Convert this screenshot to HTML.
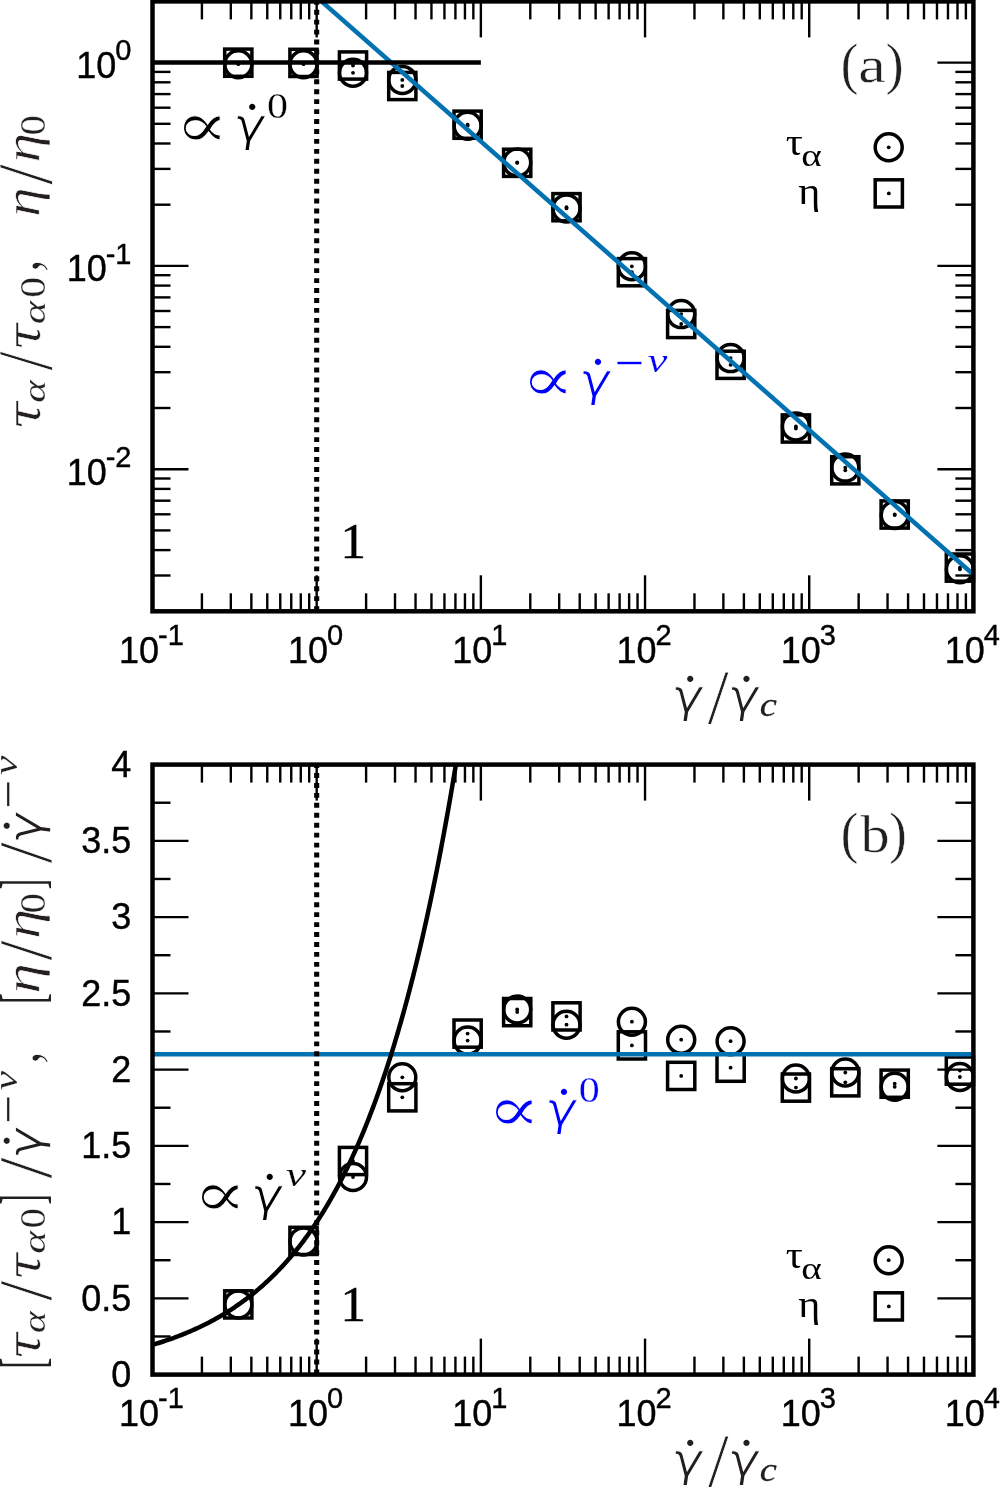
<!DOCTYPE html>
<html><head><meta charset="utf-8"><title>plot</title><style>html,body{margin:0;padding:0;background:#fff}svg{display:block}</style></head><body>
<svg width="1000" height="1487" viewBox="0 0 1000 1487">
<rect width="1000" height="1487" fill="#fff"/>
<defs><clipPath id="ca"><rect x="152.50" y="1.40" width="820.90" height="609.90"/></clipPath><clipPath id="cb"><rect x="152.50" y="764.60" width="820.90" height="610.00"/></clipPath></defs>
<g id="pa">
<line x1="201.92" y1="611.30" x2="201.92" y2="593.30" stroke="#000" stroke-width="2.4" />
<line x1="201.92" y1="1.40" x2="201.92" y2="19.40" stroke="#000" stroke-width="2.4" />
<line x1="230.83" y1="611.30" x2="230.83" y2="593.30" stroke="#000" stroke-width="2.4" />
<line x1="230.83" y1="1.40" x2="230.83" y2="19.40" stroke="#000" stroke-width="2.4" />
<line x1="251.35" y1="611.30" x2="251.35" y2="593.30" stroke="#000" stroke-width="2.4" />
<line x1="251.35" y1="1.40" x2="251.35" y2="19.40" stroke="#000" stroke-width="2.4" />
<line x1="267.26" y1="611.30" x2="267.26" y2="593.30" stroke="#000" stroke-width="2.4" />
<line x1="267.26" y1="1.40" x2="267.26" y2="19.40" stroke="#000" stroke-width="2.4" />
<line x1="280.26" y1="611.30" x2="280.26" y2="593.30" stroke="#000" stroke-width="2.4" />
<line x1="280.26" y1="1.40" x2="280.26" y2="19.40" stroke="#000" stroke-width="2.4" />
<line x1="291.25" y1="611.30" x2="291.25" y2="593.30" stroke="#000" stroke-width="2.4" />
<line x1="291.25" y1="1.40" x2="291.25" y2="19.40" stroke="#000" stroke-width="2.4" />
<line x1="300.77" y1="611.30" x2="300.77" y2="593.30" stroke="#000" stroke-width="2.4" />
<line x1="300.77" y1="1.40" x2="300.77" y2="19.40" stroke="#000" stroke-width="2.4" />
<line x1="309.17" y1="611.30" x2="309.17" y2="593.30" stroke="#000" stroke-width="2.4" />
<line x1="309.17" y1="1.40" x2="309.17" y2="19.40" stroke="#000" stroke-width="2.4" />
<line x1="316.68" y1="611.30" x2="316.68" y2="575.30" stroke="#000" stroke-width="2.4" />
<line x1="316.68" y1="1.40" x2="316.68" y2="37.40" stroke="#000" stroke-width="2.4" />
<line x1="366.10" y1="611.30" x2="366.10" y2="593.30" stroke="#000" stroke-width="2.4" />
<line x1="366.10" y1="1.40" x2="366.10" y2="19.40" stroke="#000" stroke-width="2.4" />
<line x1="395.01" y1="611.30" x2="395.01" y2="593.30" stroke="#000" stroke-width="2.4" />
<line x1="395.01" y1="1.40" x2="395.01" y2="19.40" stroke="#000" stroke-width="2.4" />
<line x1="415.53" y1="611.30" x2="415.53" y2="593.30" stroke="#000" stroke-width="2.4" />
<line x1="415.53" y1="1.40" x2="415.53" y2="19.40" stroke="#000" stroke-width="2.4" />
<line x1="431.44" y1="611.30" x2="431.44" y2="593.30" stroke="#000" stroke-width="2.4" />
<line x1="431.44" y1="1.40" x2="431.44" y2="19.40" stroke="#000" stroke-width="2.4" />
<line x1="444.44" y1="611.30" x2="444.44" y2="593.30" stroke="#000" stroke-width="2.4" />
<line x1="444.44" y1="1.40" x2="444.44" y2="19.40" stroke="#000" stroke-width="2.4" />
<line x1="455.43" y1="611.30" x2="455.43" y2="593.30" stroke="#000" stroke-width="2.4" />
<line x1="455.43" y1="1.40" x2="455.43" y2="19.40" stroke="#000" stroke-width="2.4" />
<line x1="464.95" y1="611.30" x2="464.95" y2="593.30" stroke="#000" stroke-width="2.4" />
<line x1="464.95" y1="1.40" x2="464.95" y2="19.40" stroke="#000" stroke-width="2.4" />
<line x1="473.35" y1="611.30" x2="473.35" y2="593.30" stroke="#000" stroke-width="2.4" />
<line x1="473.35" y1="1.40" x2="473.35" y2="19.40" stroke="#000" stroke-width="2.4" />
<line x1="480.86" y1="611.30" x2="480.86" y2="575.30" stroke="#000" stroke-width="2.4" />
<line x1="480.86" y1="1.40" x2="480.86" y2="37.40" stroke="#000" stroke-width="2.4" />
<line x1="530.28" y1="611.30" x2="530.28" y2="593.30" stroke="#000" stroke-width="2.4" />
<line x1="530.28" y1="1.40" x2="530.28" y2="19.40" stroke="#000" stroke-width="2.4" />
<line x1="559.19" y1="611.30" x2="559.19" y2="593.30" stroke="#000" stroke-width="2.4" />
<line x1="559.19" y1="1.40" x2="559.19" y2="19.40" stroke="#000" stroke-width="2.4" />
<line x1="579.71" y1="611.30" x2="579.71" y2="593.30" stroke="#000" stroke-width="2.4" />
<line x1="579.71" y1="1.40" x2="579.71" y2="19.40" stroke="#000" stroke-width="2.4" />
<line x1="595.62" y1="611.30" x2="595.62" y2="593.30" stroke="#000" stroke-width="2.4" />
<line x1="595.62" y1="1.40" x2="595.62" y2="19.40" stroke="#000" stroke-width="2.4" />
<line x1="608.62" y1="611.30" x2="608.62" y2="593.30" stroke="#000" stroke-width="2.4" />
<line x1="608.62" y1="1.40" x2="608.62" y2="19.40" stroke="#000" stroke-width="2.4" />
<line x1="619.61" y1="611.30" x2="619.61" y2="593.30" stroke="#000" stroke-width="2.4" />
<line x1="619.61" y1="1.40" x2="619.61" y2="19.40" stroke="#000" stroke-width="2.4" />
<line x1="629.13" y1="611.30" x2="629.13" y2="593.30" stroke="#000" stroke-width="2.4" />
<line x1="629.13" y1="1.40" x2="629.13" y2="19.40" stroke="#000" stroke-width="2.4" />
<line x1="637.53" y1="611.30" x2="637.53" y2="593.30" stroke="#000" stroke-width="2.4" />
<line x1="637.53" y1="1.40" x2="637.53" y2="19.40" stroke="#000" stroke-width="2.4" />
<line x1="645.04" y1="611.30" x2="645.04" y2="575.30" stroke="#000" stroke-width="2.4" />
<line x1="645.04" y1="1.40" x2="645.04" y2="37.40" stroke="#000" stroke-width="2.4" />
<line x1="694.46" y1="611.30" x2="694.46" y2="593.30" stroke="#000" stroke-width="2.4" />
<line x1="694.46" y1="1.40" x2="694.46" y2="19.40" stroke="#000" stroke-width="2.4" />
<line x1="723.37" y1="611.30" x2="723.37" y2="593.30" stroke="#000" stroke-width="2.4" />
<line x1="723.37" y1="1.40" x2="723.37" y2="19.40" stroke="#000" stroke-width="2.4" />
<line x1="743.89" y1="611.30" x2="743.89" y2="593.30" stroke="#000" stroke-width="2.4" />
<line x1="743.89" y1="1.40" x2="743.89" y2="19.40" stroke="#000" stroke-width="2.4" />
<line x1="759.80" y1="611.30" x2="759.80" y2="593.30" stroke="#000" stroke-width="2.4" />
<line x1="759.80" y1="1.40" x2="759.80" y2="19.40" stroke="#000" stroke-width="2.4" />
<line x1="772.80" y1="611.30" x2="772.80" y2="593.30" stroke="#000" stroke-width="2.4" />
<line x1="772.80" y1="1.40" x2="772.80" y2="19.40" stroke="#000" stroke-width="2.4" />
<line x1="783.79" y1="611.30" x2="783.79" y2="593.30" stroke="#000" stroke-width="2.4" />
<line x1="783.79" y1="1.40" x2="783.79" y2="19.40" stroke="#000" stroke-width="2.4" />
<line x1="793.31" y1="611.30" x2="793.31" y2="593.30" stroke="#000" stroke-width="2.4" />
<line x1="793.31" y1="1.40" x2="793.31" y2="19.40" stroke="#000" stroke-width="2.4" />
<line x1="801.71" y1="611.30" x2="801.71" y2="593.30" stroke="#000" stroke-width="2.4" />
<line x1="801.71" y1="1.40" x2="801.71" y2="19.40" stroke="#000" stroke-width="2.4" />
<line x1="809.22" y1="611.30" x2="809.22" y2="575.30" stroke="#000" stroke-width="2.4" />
<line x1="809.22" y1="1.40" x2="809.22" y2="37.40" stroke="#000" stroke-width="2.4" />
<line x1="858.64" y1="611.30" x2="858.64" y2="593.30" stroke="#000" stroke-width="2.4" />
<line x1="858.64" y1="1.40" x2="858.64" y2="19.40" stroke="#000" stroke-width="2.4" />
<line x1="887.55" y1="611.30" x2="887.55" y2="593.30" stroke="#000" stroke-width="2.4" />
<line x1="887.55" y1="1.40" x2="887.55" y2="19.40" stroke="#000" stroke-width="2.4" />
<line x1="908.07" y1="611.30" x2="908.07" y2="593.30" stroke="#000" stroke-width="2.4" />
<line x1="908.07" y1="1.40" x2="908.07" y2="19.40" stroke="#000" stroke-width="2.4" />
<line x1="923.98" y1="611.30" x2="923.98" y2="593.30" stroke="#000" stroke-width="2.4" />
<line x1="923.98" y1="1.40" x2="923.98" y2="19.40" stroke="#000" stroke-width="2.4" />
<line x1="936.98" y1="611.30" x2="936.98" y2="593.30" stroke="#000" stroke-width="2.4" />
<line x1="936.98" y1="1.40" x2="936.98" y2="19.40" stroke="#000" stroke-width="2.4" />
<line x1="947.97" y1="611.30" x2="947.97" y2="593.30" stroke="#000" stroke-width="2.4" />
<line x1="947.97" y1="1.40" x2="947.97" y2="19.40" stroke="#000" stroke-width="2.4" />
<line x1="957.49" y1="611.30" x2="957.49" y2="593.30" stroke="#000" stroke-width="2.4" />
<line x1="957.49" y1="1.40" x2="957.49" y2="19.40" stroke="#000" stroke-width="2.4" />
<line x1="965.89" y1="611.30" x2="965.89" y2="593.30" stroke="#000" stroke-width="2.4" />
<line x1="965.89" y1="1.40" x2="965.89" y2="19.40" stroke="#000" stroke-width="2.4" />
<line x1="152.50" y1="575.50" x2="170.50" y2="575.50" stroke="#000" stroke-width="2.4" />
<line x1="973.40" y1="575.50" x2="955.40" y2="575.50" stroke="#000" stroke-width="2.4" />
<line x1="152.50" y1="550.10" x2="170.50" y2="550.10" stroke="#000" stroke-width="2.4" />
<line x1="973.40" y1="550.10" x2="955.40" y2="550.10" stroke="#000" stroke-width="2.4" />
<line x1="152.50" y1="530.40" x2="170.50" y2="530.40" stroke="#000" stroke-width="2.4" />
<line x1="973.40" y1="530.40" x2="955.40" y2="530.40" stroke="#000" stroke-width="2.4" />
<line x1="152.50" y1="514.30" x2="170.50" y2="514.30" stroke="#000" stroke-width="2.4" />
<line x1="973.40" y1="514.30" x2="955.40" y2="514.30" stroke="#000" stroke-width="2.4" />
<line x1="152.50" y1="500.69" x2="170.50" y2="500.69" stroke="#000" stroke-width="2.4" />
<line x1="973.40" y1="500.69" x2="955.40" y2="500.69" stroke="#000" stroke-width="2.4" />
<line x1="152.50" y1="488.90" x2="170.50" y2="488.90" stroke="#000" stroke-width="2.4" />
<line x1="973.40" y1="488.90" x2="955.40" y2="488.90" stroke="#000" stroke-width="2.4" />
<line x1="152.50" y1="478.50" x2="170.50" y2="478.50" stroke="#000" stroke-width="2.4" />
<line x1="973.40" y1="478.50" x2="955.40" y2="478.50" stroke="#000" stroke-width="2.4" />
<line x1="152.50" y1="469.20" x2="188.50" y2="469.20" stroke="#000" stroke-width="2.4" />
<line x1="973.40" y1="469.20" x2="937.40" y2="469.20" stroke="#000" stroke-width="2.4" />
<line x1="152.50" y1="408.00" x2="170.50" y2="408.00" stroke="#000" stroke-width="2.4" />
<line x1="973.40" y1="408.00" x2="955.40" y2="408.00" stroke="#000" stroke-width="2.4" />
<line x1="152.50" y1="372.20" x2="170.50" y2="372.20" stroke="#000" stroke-width="2.4" />
<line x1="973.40" y1="372.20" x2="955.40" y2="372.20" stroke="#000" stroke-width="2.4" />
<line x1="152.50" y1="346.80" x2="170.50" y2="346.80" stroke="#000" stroke-width="2.4" />
<line x1="973.40" y1="346.80" x2="955.40" y2="346.80" stroke="#000" stroke-width="2.4" />
<line x1="152.50" y1="327.10" x2="170.50" y2="327.10" stroke="#000" stroke-width="2.4" />
<line x1="973.40" y1="327.10" x2="955.40" y2="327.10" stroke="#000" stroke-width="2.4" />
<line x1="152.50" y1="311.00" x2="170.50" y2="311.00" stroke="#000" stroke-width="2.4" />
<line x1="973.40" y1="311.00" x2="955.40" y2="311.00" stroke="#000" stroke-width="2.4" />
<line x1="152.50" y1="297.39" x2="170.50" y2="297.39" stroke="#000" stroke-width="2.4" />
<line x1="973.40" y1="297.39" x2="955.40" y2="297.39" stroke="#000" stroke-width="2.4" />
<line x1="152.50" y1="285.60" x2="170.50" y2="285.60" stroke="#000" stroke-width="2.4" />
<line x1="973.40" y1="285.60" x2="955.40" y2="285.60" stroke="#000" stroke-width="2.4" />
<line x1="152.50" y1="275.20" x2="170.50" y2="275.20" stroke="#000" stroke-width="2.4" />
<line x1="973.40" y1="275.20" x2="955.40" y2="275.20" stroke="#000" stroke-width="2.4" />
<line x1="152.50" y1="265.90" x2="188.50" y2="265.90" stroke="#000" stroke-width="2.4" />
<line x1="973.40" y1="265.90" x2="937.40" y2="265.90" stroke="#000" stroke-width="2.4" />
<line x1="152.50" y1="204.70" x2="170.50" y2="204.70" stroke="#000" stroke-width="2.4" />
<line x1="973.40" y1="204.70" x2="955.40" y2="204.70" stroke="#000" stroke-width="2.4" />
<line x1="152.50" y1="168.90" x2="170.50" y2="168.90" stroke="#000" stroke-width="2.4" />
<line x1="973.40" y1="168.90" x2="955.40" y2="168.90" stroke="#000" stroke-width="2.4" />
<line x1="152.50" y1="143.50" x2="170.50" y2="143.50" stroke="#000" stroke-width="2.4" />
<line x1="973.40" y1="143.50" x2="955.40" y2="143.50" stroke="#000" stroke-width="2.4" />
<line x1="152.50" y1="123.80" x2="170.50" y2="123.80" stroke="#000" stroke-width="2.4" />
<line x1="973.40" y1="123.80" x2="955.40" y2="123.80" stroke="#000" stroke-width="2.4" />
<line x1="152.50" y1="107.70" x2="170.50" y2="107.70" stroke="#000" stroke-width="2.4" />
<line x1="973.40" y1="107.70" x2="955.40" y2="107.70" stroke="#000" stroke-width="2.4" />
<line x1="152.50" y1="94.09" x2="170.50" y2="94.09" stroke="#000" stroke-width="2.4" />
<line x1="973.40" y1="94.09" x2="955.40" y2="94.09" stroke="#000" stroke-width="2.4" />
<line x1="152.50" y1="82.30" x2="170.50" y2="82.30" stroke="#000" stroke-width="2.4" />
<line x1="973.40" y1="82.30" x2="955.40" y2="82.30" stroke="#000" stroke-width="2.4" />
<line x1="152.50" y1="71.90" x2="170.50" y2="71.90" stroke="#000" stroke-width="2.4" />
<line x1="973.40" y1="71.90" x2="955.40" y2="71.90" stroke="#000" stroke-width="2.4" />
<line x1="152.50" y1="62.60" x2="188.50" y2="62.60" stroke="#000" stroke-width="2.4" />
<line x1="973.40" y1="62.60" x2="937.40" y2="62.60" stroke="#000" stroke-width="2.4" />
<circle cx="238.30" cy="64.20" r="13.5" fill="none" stroke="#000" stroke-width="3.5"/><circle cx="238.30" cy="64.20" r="1.9" fill="#000"/>
<rect x="224.70" y="49.10" width="27.2" height="27.2" fill="none" stroke="#000" stroke-width="3.5"/><circle cx="238.30" cy="62.70" r="1.9" fill="#000"/>
<circle cx="303.50" cy="64.20" r="13.5" fill="none" stroke="#000" stroke-width="3.5"/><circle cx="303.50" cy="64.20" r="1.9" fill="#000"/>
<rect x="289.90" y="49.30" width="27.2" height="27.2" fill="none" stroke="#000" stroke-width="3.5"/><circle cx="303.50" cy="62.90" r="1.9" fill="#000"/>
<circle cx="353.00" cy="72.80" r="13.5" fill="none" stroke="#000" stroke-width="3.5"/><circle cx="353.00" cy="72.80" r="1.9" fill="#000"/>
<rect x="339.40" y="51.90" width="27.2" height="27.2" fill="none" stroke="#000" stroke-width="3.5"/><circle cx="353.00" cy="65.50" r="1.9" fill="#000"/>
<circle cx="402.30" cy="79.90" r="13.5" fill="none" stroke="#000" stroke-width="3.5"/><circle cx="402.30" cy="79.90" r="1.9" fill="#000"/>
<rect x="388.70" y="72.40" width="27.2" height="27.2" fill="none" stroke="#000" stroke-width="3.5"/><circle cx="402.30" cy="86.00" r="1.9" fill="#000"/>
<circle cx="467.60" cy="125.70" r="13.5" fill="none" stroke="#000" stroke-width="3.5"/><circle cx="467.60" cy="125.70" r="1.9" fill="#000"/>
<rect x="454.00" y="111.10" width="27.2" height="27.2" fill="none" stroke="#000" stroke-width="3.5"/><circle cx="467.60" cy="124.70" r="1.9" fill="#000"/>
<circle cx="517.20" cy="162.50" r="13.5" fill="none" stroke="#000" stroke-width="3.5"/><circle cx="517.20" cy="162.50" r="1.9" fill="#000"/>
<rect x="503.60" y="149.20" width="27.2" height="27.2" fill="none" stroke="#000" stroke-width="3.5"/><circle cx="517.20" cy="162.80" r="1.9" fill="#000"/>
<circle cx="566.50" cy="208.40" r="13.5" fill="none" stroke="#000" stroke-width="3.5"/><circle cx="566.50" cy="208.40" r="1.9" fill="#000"/>
<rect x="552.90" y="193.60" width="27.2" height="27.2" fill="none" stroke="#000" stroke-width="3.5"/><circle cx="566.50" cy="207.20" r="1.9" fill="#000"/>
<circle cx="631.90" cy="266.30" r="13.5" fill="none" stroke="#000" stroke-width="3.5"/><circle cx="631.90" cy="266.30" r="1.9" fill="#000"/>
<rect x="618.30" y="258.60" width="27.2" height="27.2" fill="none" stroke="#000" stroke-width="3.5"/><circle cx="631.90" cy="272.20" r="1.9" fill="#000"/>
<circle cx="681.20" cy="314.10" r="13.5" fill="none" stroke="#000" stroke-width="3.5"/><circle cx="681.20" cy="314.10" r="1.9" fill="#000"/>
<rect x="667.60" y="310.40" width="27.2" height="27.2" fill="none" stroke="#000" stroke-width="3.5"/><circle cx="681.20" cy="324.00" r="1.9" fill="#000"/>
<circle cx="730.60" cy="358.10" r="13.5" fill="none" stroke="#000" stroke-width="3.5"/><circle cx="730.60" cy="358.10" r="1.9" fill="#000"/>
<rect x="717.00" y="351.20" width="27.2" height="27.2" fill="none" stroke="#000" stroke-width="3.5"/><circle cx="730.60" cy="364.80" r="1.9" fill="#000"/>
<circle cx="795.90" cy="426.40" r="13.5" fill="none" stroke="#000" stroke-width="3.5"/><circle cx="795.90" cy="426.40" r="1.9" fill="#000"/>
<rect x="782.30" y="414.90" width="27.2" height="27.2" fill="none" stroke="#000" stroke-width="3.5"/><circle cx="795.90" cy="428.50" r="1.9" fill="#000"/>
<circle cx="845.30" cy="467.60" r="13.5" fill="none" stroke="#000" stroke-width="3.5"/><circle cx="845.30" cy="467.60" r="1.9" fill="#000"/>
<rect x="831.70" y="456.70" width="27.2" height="27.2" fill="none" stroke="#000" stroke-width="3.5"/><circle cx="845.30" cy="470.30" r="1.9" fill="#000"/>
<circle cx="894.70" cy="515.00" r="13.5" fill="none" stroke="#000" stroke-width="3.5"/><circle cx="894.70" cy="515.00" r="1.9" fill="#000"/>
<rect x="881.10" y="500.90" width="27.2" height="27.2" fill="none" stroke="#000" stroke-width="3.5"/><circle cx="894.70" cy="514.50" r="1.9" fill="#000"/>
<circle cx="959.90" cy="569.30" r="13.5" fill="none" stroke="#000" stroke-width="3.5"/><circle cx="959.90" cy="569.30" r="1.9" fill="#000"/>
<rect x="946.30" y="554.00" width="27.2" height="27.2" fill="none" stroke="#000" stroke-width="3.5"/><circle cx="959.90" cy="567.60" r="1.9" fill="#000"/>
<g clip-path="url(#ca)">
<line x1="314.07" y1="-5.20" x2="973.40" y2="574.46" stroke="#0072b2" stroke-width="4.5" />
</g>
<line x1="152.50" y1="62.60" x2="480.86" y2="62.60" stroke="#000" stroke-width="4.5" />
<line x1="316.68" y1="611.05" x2="316.68" y2="1.40" stroke="#000" stroke-width="5.1" stroke-dasharray="4.9 5.04"/>
<rect x="152.50" y="1.40" width="820.90" height="609.90" fill="none" stroke="#000" stroke-width="4.5"/>
<circle cx="888.70" cy="147.30" r="13.5" fill="none" stroke="#000" stroke-width="3.5"/><circle cx="888.70" cy="147.30" r="1.9" fill="#000"/>
<rect x="875.20" y="179.80" width="27.2" height="27.2" fill="none" stroke="#000" stroke-width="3.5"/><circle cx="888.80" cy="193.40" r="1.9" fill="#000"/>
</g>
<g id="pb">
<line x1="201.92" y1="1374.60" x2="201.92" y2="1356.60" stroke="#000" stroke-width="2.4" />
<line x1="201.92" y1="764.60" x2="201.92" y2="782.60" stroke="#000" stroke-width="2.4" />
<line x1="230.83" y1="1374.60" x2="230.83" y2="1356.60" stroke="#000" stroke-width="2.4" />
<line x1="230.83" y1="764.60" x2="230.83" y2="782.60" stroke="#000" stroke-width="2.4" />
<line x1="251.35" y1="1374.60" x2="251.35" y2="1356.60" stroke="#000" stroke-width="2.4" />
<line x1="251.35" y1="764.60" x2="251.35" y2="782.60" stroke="#000" stroke-width="2.4" />
<line x1="267.26" y1="1374.60" x2="267.26" y2="1356.60" stroke="#000" stroke-width="2.4" />
<line x1="267.26" y1="764.60" x2="267.26" y2="782.60" stroke="#000" stroke-width="2.4" />
<line x1="280.26" y1="1374.60" x2="280.26" y2="1356.60" stroke="#000" stroke-width="2.4" />
<line x1="280.26" y1="764.60" x2="280.26" y2="782.60" stroke="#000" stroke-width="2.4" />
<line x1="291.25" y1="1374.60" x2="291.25" y2="1356.60" stroke="#000" stroke-width="2.4" />
<line x1="291.25" y1="764.60" x2="291.25" y2="782.60" stroke="#000" stroke-width="2.4" />
<line x1="300.77" y1="1374.60" x2="300.77" y2="1356.60" stroke="#000" stroke-width="2.4" />
<line x1="300.77" y1="764.60" x2="300.77" y2="782.60" stroke="#000" stroke-width="2.4" />
<line x1="309.17" y1="1374.60" x2="309.17" y2="1356.60" stroke="#000" stroke-width="2.4" />
<line x1="309.17" y1="764.60" x2="309.17" y2="782.60" stroke="#000" stroke-width="2.4" />
<line x1="316.68" y1="1374.60" x2="316.68" y2="1338.60" stroke="#000" stroke-width="2.4" />
<line x1="316.68" y1="764.60" x2="316.68" y2="800.60" stroke="#000" stroke-width="2.4" />
<line x1="366.10" y1="1374.60" x2="366.10" y2="1356.60" stroke="#000" stroke-width="2.4" />
<line x1="366.10" y1="764.60" x2="366.10" y2="782.60" stroke="#000" stroke-width="2.4" />
<line x1="395.01" y1="1374.60" x2="395.01" y2="1356.60" stroke="#000" stroke-width="2.4" />
<line x1="395.01" y1="764.60" x2="395.01" y2="782.60" stroke="#000" stroke-width="2.4" />
<line x1="415.53" y1="1374.60" x2="415.53" y2="1356.60" stroke="#000" stroke-width="2.4" />
<line x1="415.53" y1="764.60" x2="415.53" y2="782.60" stroke="#000" stroke-width="2.4" />
<line x1="431.44" y1="1374.60" x2="431.44" y2="1356.60" stroke="#000" stroke-width="2.4" />
<line x1="431.44" y1="764.60" x2="431.44" y2="782.60" stroke="#000" stroke-width="2.4" />
<line x1="444.44" y1="1374.60" x2="444.44" y2="1356.60" stroke="#000" stroke-width="2.4" />
<line x1="444.44" y1="764.60" x2="444.44" y2="782.60" stroke="#000" stroke-width="2.4" />
<line x1="455.43" y1="1374.60" x2="455.43" y2="1356.60" stroke="#000" stroke-width="2.4" />
<line x1="455.43" y1="764.60" x2="455.43" y2="782.60" stroke="#000" stroke-width="2.4" />
<line x1="464.95" y1="1374.60" x2="464.95" y2="1356.60" stroke="#000" stroke-width="2.4" />
<line x1="464.95" y1="764.60" x2="464.95" y2="782.60" stroke="#000" stroke-width="2.4" />
<line x1="473.35" y1="1374.60" x2="473.35" y2="1356.60" stroke="#000" stroke-width="2.4" />
<line x1="473.35" y1="764.60" x2="473.35" y2="782.60" stroke="#000" stroke-width="2.4" />
<line x1="480.86" y1="1374.60" x2="480.86" y2="1338.60" stroke="#000" stroke-width="2.4" />
<line x1="480.86" y1="764.60" x2="480.86" y2="800.60" stroke="#000" stroke-width="2.4" />
<line x1="530.28" y1="1374.60" x2="530.28" y2="1356.60" stroke="#000" stroke-width="2.4" />
<line x1="530.28" y1="764.60" x2="530.28" y2="782.60" stroke="#000" stroke-width="2.4" />
<line x1="559.19" y1="1374.60" x2="559.19" y2="1356.60" stroke="#000" stroke-width="2.4" />
<line x1="559.19" y1="764.60" x2="559.19" y2="782.60" stroke="#000" stroke-width="2.4" />
<line x1="579.71" y1="1374.60" x2="579.71" y2="1356.60" stroke="#000" stroke-width="2.4" />
<line x1="579.71" y1="764.60" x2="579.71" y2="782.60" stroke="#000" stroke-width="2.4" />
<line x1="595.62" y1="1374.60" x2="595.62" y2="1356.60" stroke="#000" stroke-width="2.4" />
<line x1="595.62" y1="764.60" x2="595.62" y2="782.60" stroke="#000" stroke-width="2.4" />
<line x1="608.62" y1="1374.60" x2="608.62" y2="1356.60" stroke="#000" stroke-width="2.4" />
<line x1="608.62" y1="764.60" x2="608.62" y2="782.60" stroke="#000" stroke-width="2.4" />
<line x1="619.61" y1="1374.60" x2="619.61" y2="1356.60" stroke="#000" stroke-width="2.4" />
<line x1="619.61" y1="764.60" x2="619.61" y2="782.60" stroke="#000" stroke-width="2.4" />
<line x1="629.13" y1="1374.60" x2="629.13" y2="1356.60" stroke="#000" stroke-width="2.4" />
<line x1="629.13" y1="764.60" x2="629.13" y2="782.60" stroke="#000" stroke-width="2.4" />
<line x1="637.53" y1="1374.60" x2="637.53" y2="1356.60" stroke="#000" stroke-width="2.4" />
<line x1="637.53" y1="764.60" x2="637.53" y2="782.60" stroke="#000" stroke-width="2.4" />
<line x1="645.04" y1="1374.60" x2="645.04" y2="1338.60" stroke="#000" stroke-width="2.4" />
<line x1="645.04" y1="764.60" x2="645.04" y2="800.60" stroke="#000" stroke-width="2.4" />
<line x1="694.46" y1="1374.60" x2="694.46" y2="1356.60" stroke="#000" stroke-width="2.4" />
<line x1="694.46" y1="764.60" x2="694.46" y2="782.60" stroke="#000" stroke-width="2.4" />
<line x1="723.37" y1="1374.60" x2="723.37" y2="1356.60" stroke="#000" stroke-width="2.4" />
<line x1="723.37" y1="764.60" x2="723.37" y2="782.60" stroke="#000" stroke-width="2.4" />
<line x1="743.89" y1="1374.60" x2="743.89" y2="1356.60" stroke="#000" stroke-width="2.4" />
<line x1="743.89" y1="764.60" x2="743.89" y2="782.60" stroke="#000" stroke-width="2.4" />
<line x1="759.80" y1="1374.60" x2="759.80" y2="1356.60" stroke="#000" stroke-width="2.4" />
<line x1="759.80" y1="764.60" x2="759.80" y2="782.60" stroke="#000" stroke-width="2.4" />
<line x1="772.80" y1="1374.60" x2="772.80" y2="1356.60" stroke="#000" stroke-width="2.4" />
<line x1="772.80" y1="764.60" x2="772.80" y2="782.60" stroke="#000" stroke-width="2.4" />
<line x1="783.79" y1="1374.60" x2="783.79" y2="1356.60" stroke="#000" stroke-width="2.4" />
<line x1="783.79" y1="764.60" x2="783.79" y2="782.60" stroke="#000" stroke-width="2.4" />
<line x1="793.31" y1="1374.60" x2="793.31" y2="1356.60" stroke="#000" stroke-width="2.4" />
<line x1="793.31" y1="764.60" x2="793.31" y2="782.60" stroke="#000" stroke-width="2.4" />
<line x1="801.71" y1="1374.60" x2="801.71" y2="1356.60" stroke="#000" stroke-width="2.4" />
<line x1="801.71" y1="764.60" x2="801.71" y2="782.60" stroke="#000" stroke-width="2.4" />
<line x1="809.22" y1="1374.60" x2="809.22" y2="1338.60" stroke="#000" stroke-width="2.4" />
<line x1="809.22" y1="764.60" x2="809.22" y2="800.60" stroke="#000" stroke-width="2.4" />
<line x1="858.64" y1="1374.60" x2="858.64" y2="1356.60" stroke="#000" stroke-width="2.4" />
<line x1="858.64" y1="764.60" x2="858.64" y2="782.60" stroke="#000" stroke-width="2.4" />
<line x1="887.55" y1="1374.60" x2="887.55" y2="1356.60" stroke="#000" stroke-width="2.4" />
<line x1="887.55" y1="764.60" x2="887.55" y2="782.60" stroke="#000" stroke-width="2.4" />
<line x1="908.07" y1="1374.60" x2="908.07" y2="1356.60" stroke="#000" stroke-width="2.4" />
<line x1="908.07" y1="764.60" x2="908.07" y2="782.60" stroke="#000" stroke-width="2.4" />
<line x1="923.98" y1="1374.60" x2="923.98" y2="1356.60" stroke="#000" stroke-width="2.4" />
<line x1="923.98" y1="764.60" x2="923.98" y2="782.60" stroke="#000" stroke-width="2.4" />
<line x1="936.98" y1="1374.60" x2="936.98" y2="1356.60" stroke="#000" stroke-width="2.4" />
<line x1="936.98" y1="764.60" x2="936.98" y2="782.60" stroke="#000" stroke-width="2.4" />
<line x1="947.97" y1="1374.60" x2="947.97" y2="1356.60" stroke="#000" stroke-width="2.4" />
<line x1="947.97" y1="764.60" x2="947.97" y2="782.60" stroke="#000" stroke-width="2.4" />
<line x1="957.49" y1="1374.60" x2="957.49" y2="1356.60" stroke="#000" stroke-width="2.4" />
<line x1="957.49" y1="764.60" x2="957.49" y2="782.60" stroke="#000" stroke-width="2.4" />
<line x1="965.89" y1="1374.60" x2="965.89" y2="1356.60" stroke="#000" stroke-width="2.4" />
<line x1="965.89" y1="764.60" x2="965.89" y2="782.60" stroke="#000" stroke-width="2.4" />
<line x1="152.50" y1="1336.47" x2="170.50" y2="1336.47" stroke="#000" stroke-width="2.4" />
<line x1="973.40" y1="1336.47" x2="955.40" y2="1336.47" stroke="#000" stroke-width="2.4" />
<line x1="152.50" y1="1298.35" x2="188.50" y2="1298.35" stroke="#000" stroke-width="2.4" />
<line x1="973.40" y1="1298.35" x2="937.40" y2="1298.35" stroke="#000" stroke-width="2.4" />
<line x1="152.50" y1="1260.22" x2="170.50" y2="1260.22" stroke="#000" stroke-width="2.4" />
<line x1="973.40" y1="1260.22" x2="955.40" y2="1260.22" stroke="#000" stroke-width="2.4" />
<line x1="152.50" y1="1222.10" x2="188.50" y2="1222.10" stroke="#000" stroke-width="2.4" />
<line x1="973.40" y1="1222.10" x2="937.40" y2="1222.10" stroke="#000" stroke-width="2.4" />
<line x1="152.50" y1="1183.97" x2="170.50" y2="1183.97" stroke="#000" stroke-width="2.4" />
<line x1="973.40" y1="1183.97" x2="955.40" y2="1183.97" stroke="#000" stroke-width="2.4" />
<line x1="152.50" y1="1145.85" x2="188.50" y2="1145.85" stroke="#000" stroke-width="2.4" />
<line x1="973.40" y1="1145.85" x2="937.40" y2="1145.85" stroke="#000" stroke-width="2.4" />
<line x1="152.50" y1="1107.72" x2="170.50" y2="1107.72" stroke="#000" stroke-width="2.4" />
<line x1="973.40" y1="1107.72" x2="955.40" y2="1107.72" stroke="#000" stroke-width="2.4" />
<line x1="152.50" y1="1069.60" x2="188.50" y2="1069.60" stroke="#000" stroke-width="2.4" />
<line x1="973.40" y1="1069.60" x2="937.40" y2="1069.60" stroke="#000" stroke-width="2.4" />
<line x1="152.50" y1="1031.47" x2="170.50" y2="1031.47" stroke="#000" stroke-width="2.4" />
<line x1="973.40" y1="1031.47" x2="955.40" y2="1031.47" stroke="#000" stroke-width="2.4" />
<line x1="152.50" y1="993.35" x2="188.50" y2="993.35" stroke="#000" stroke-width="2.4" />
<line x1="973.40" y1="993.35" x2="937.40" y2="993.35" stroke="#000" stroke-width="2.4" />
<line x1="152.50" y1="955.22" x2="170.50" y2="955.22" stroke="#000" stroke-width="2.4" />
<line x1="973.40" y1="955.22" x2="955.40" y2="955.22" stroke="#000" stroke-width="2.4" />
<line x1="152.50" y1="917.10" x2="188.50" y2="917.10" stroke="#000" stroke-width="2.4" />
<line x1="973.40" y1="917.10" x2="937.40" y2="917.10" stroke="#000" stroke-width="2.4" />
<line x1="152.50" y1="878.98" x2="170.50" y2="878.98" stroke="#000" stroke-width="2.4" />
<line x1="973.40" y1="878.98" x2="955.40" y2="878.98" stroke="#000" stroke-width="2.4" />
<line x1="152.50" y1="840.85" x2="188.50" y2="840.85" stroke="#000" stroke-width="2.4" />
<line x1="973.40" y1="840.85" x2="937.40" y2="840.85" stroke="#000" stroke-width="2.4" />
<line x1="152.50" y1="802.73" x2="170.50" y2="802.73" stroke="#000" stroke-width="2.4" />
<line x1="973.40" y1="802.73" x2="955.40" y2="802.73" stroke="#000" stroke-width="2.4" />
<circle cx="238.30" cy="1304.40" r="13.5" fill="none" stroke="#000" stroke-width="3.5"/><circle cx="238.30" cy="1304.40" r="1.9" fill="#000"/>
<rect x="224.70" y="1290.80" width="27.2" height="27.2" fill="none" stroke="#000" stroke-width="3.5"/><circle cx="238.30" cy="1304.40" r="1.9" fill="#000"/>
<circle cx="303.50" cy="1241.40" r="13.5" fill="none" stroke="#000" stroke-width="3.5"/><circle cx="303.50" cy="1241.40" r="1.9" fill="#000"/>
<rect x="289.90" y="1227.30" width="27.2" height="27.2" fill="none" stroke="#000" stroke-width="3.5"/><circle cx="303.50" cy="1240.90" r="1.9" fill="#000"/>
<circle cx="353.00" cy="1177.00" r="13.5" fill="none" stroke="#000" stroke-width="3.5"/><circle cx="353.00" cy="1177.00" r="1.9" fill="#000"/>
<rect x="339.40" y="1147.40" width="27.2" height="27.2" fill="none" stroke="#000" stroke-width="3.5"/><circle cx="353.00" cy="1161.00" r="1.9" fill="#000"/>
<circle cx="402.30" cy="1077.30" r="13.5" fill="none" stroke="#000" stroke-width="3.5"/><circle cx="402.30" cy="1077.30" r="1.9" fill="#000"/>
<rect x="388.70" y="1083.70" width="27.2" height="27.2" fill="none" stroke="#000" stroke-width="3.5"/><circle cx="402.30" cy="1097.30" r="1.9" fill="#000"/>
<circle cx="467.60" cy="1040.60" r="13.5" fill="none" stroke="#000" stroke-width="3.5"/><circle cx="467.60" cy="1040.60" r="1.9" fill="#000"/>
<rect x="454.00" y="1020.00" width="27.2" height="27.2" fill="none" stroke="#000" stroke-width="3.5"/><circle cx="467.60" cy="1033.60" r="1.9" fill="#000"/>
<circle cx="517.20" cy="1009.50" r="13.5" fill="none" stroke="#000" stroke-width="3.5"/><circle cx="517.20" cy="1009.50" r="1.9" fill="#000"/>
<rect x="503.60" y="998.50" width="27.2" height="27.2" fill="none" stroke="#000" stroke-width="3.5"/><circle cx="517.20" cy="1012.10" r="1.9" fill="#000"/>
<circle cx="566.50" cy="1024.70" r="13.5" fill="none" stroke="#000" stroke-width="3.5"/><circle cx="566.50" cy="1024.70" r="1.9" fill="#000"/>
<rect x="552.90" y="1002.80" width="27.2" height="27.2" fill="none" stroke="#000" stroke-width="3.5"/><circle cx="566.50" cy="1016.40" r="1.9" fill="#000"/>
<circle cx="631.90" cy="1021.70" r="13.5" fill="none" stroke="#000" stroke-width="3.5"/><circle cx="631.90" cy="1021.70" r="1.9" fill="#000"/>
<rect x="618.30" y="1031.80" width="27.2" height="27.2" fill="none" stroke="#000" stroke-width="3.5"/><circle cx="631.90" cy="1045.40" r="1.9" fill="#000"/>
<circle cx="681.20" cy="1039.70" r="13.5" fill="none" stroke="#000" stroke-width="3.5"/><circle cx="681.20" cy="1039.70" r="1.9" fill="#000"/>
<rect x="667.60" y="1062.30" width="27.2" height="27.2" fill="none" stroke="#000" stroke-width="3.5"/><circle cx="681.20" cy="1075.90" r="1.9" fill="#000"/>
<circle cx="730.60" cy="1041.20" r="13.5" fill="none" stroke="#000" stroke-width="3.5"/><circle cx="730.60" cy="1041.20" r="1.9" fill="#000"/>
<rect x="717.00" y="1054.10" width="27.2" height="27.2" fill="none" stroke="#000" stroke-width="3.5"/><circle cx="730.60" cy="1067.70" r="1.9" fill="#000"/>
<circle cx="795.90" cy="1078.50" r="13.5" fill="none" stroke="#000" stroke-width="3.5"/><circle cx="795.90" cy="1078.50" r="1.9" fill="#000"/>
<rect x="782.30" y="1074.00" width="27.2" height="27.2" fill="none" stroke="#000" stroke-width="3.5"/><circle cx="795.90" cy="1087.60" r="1.9" fill="#000"/>
<circle cx="845.30" cy="1072.50" r="13.5" fill="none" stroke="#000" stroke-width="3.5"/><circle cx="845.30" cy="1072.50" r="1.9" fill="#000"/>
<rect x="831.70" y="1068.70" width="27.2" height="27.2" fill="none" stroke="#000" stroke-width="3.5"/><circle cx="845.30" cy="1082.30" r="1.9" fill="#000"/>
<circle cx="894.70" cy="1086.80" r="13.5" fill="none" stroke="#000" stroke-width="3.5"/><circle cx="894.70" cy="1086.80" r="1.9" fill="#000"/>
<rect x="881.10" y="1070.10" width="27.2" height="27.2" fill="none" stroke="#000" stroke-width="3.5"/><circle cx="894.70" cy="1083.70" r="1.9" fill="#000"/>
<circle cx="959.90" cy="1077.00" r="13.5" fill="none" stroke="#000" stroke-width="3.5"/><circle cx="959.90" cy="1077.00" r="1.9" fill="#000"/>
<rect x="946.30" y="1057.00" width="27.2" height="27.2" fill="none" stroke="#000" stroke-width="3.5"/><circle cx="959.90" cy="1070.60" r="1.9" fill="#000"/>
<line x1="152.50" y1="1054.35" x2="973.40" y2="1054.35" stroke="#0072b2" stroke-width="4.5" />
<g clip-path="url(#cb)">
<polyline points="152.50,1344.86 154.04,1344.40 155.58,1343.94 157.12,1343.46 158.67,1342.98 160.21,1342.49 161.75,1342.00 163.29,1341.49 164.83,1340.98 166.37,1340.46 167.91,1339.93 169.46,1339.40 171.00,1338.85 172.54,1338.30 174.08,1337.74 175.62,1337.17 177.16,1336.59 178.71,1336.00 180.25,1335.40 181.79,1334.80 183.33,1334.18 184.87,1333.55 186.41,1332.92 187.95,1332.28 189.50,1331.62 191.04,1330.96 192.58,1330.28 194.12,1329.60 195.66,1328.90 197.20,1328.19 198.74,1327.47 200.29,1326.75 201.83,1326.01 203.37,1325.25 204.91,1324.49 206.45,1323.72 207.99,1322.93 209.54,1322.13 211.08,1321.32 212.62,1320.49 214.16,1319.66 215.70,1318.81 217.24,1317.94 218.78,1317.07 220.33,1316.18 221.87,1315.27 223.41,1314.36 224.95,1313.42 226.49,1312.48 228.03,1311.52 229.57,1310.54 231.12,1309.55 232.66,1308.54 234.20,1307.52 235.74,1306.48 237.28,1305.43 238.82,1304.36 240.37,1303.27 241.91,1302.17 243.45,1301.05 244.99,1299.91 246.53,1298.76 248.07,1297.58 249.61,1296.39 251.16,1295.18 252.70,1293.96 254.24,1292.71 255.78,1291.44 257.32,1290.15 258.86,1288.85 260.40,1287.52 261.95,1286.18 263.49,1284.81 265.03,1283.42 266.57,1282.01 268.11,1280.58 269.65,1279.12 271.20,1277.64 272.74,1276.15 274.28,1274.62 275.82,1273.08 277.36,1271.51 278.90,1269.91 280.44,1268.29 281.99,1266.65 283.53,1264.98 285.07,1263.28 286.61,1261.56 288.15,1259.81 289.69,1258.04 291.23,1256.23 292.78,1254.40 294.32,1252.54 295.86,1250.65 297.40,1248.74 298.94,1246.79 300.48,1244.81 302.03,1242.81 303.57,1240.77 305.11,1238.70 306.65,1236.60 308.19,1234.46 309.73,1232.29 311.27,1230.09 312.82,1227.86 314.36,1225.59 315.90,1223.28 317.44,1220.94 318.98,1218.56 320.52,1216.15 322.06,1213.70 323.61,1211.21 325.15,1208.68 326.69,1206.12 328.23,1203.51 329.77,1200.86 331.31,1198.18 332.86,1195.45 334.40,1192.68 335.94,1189.86 337.48,1187.01 339.02,1184.10 340.56,1181.16 342.10,1178.17 343.65,1175.13 345.19,1172.04 346.73,1168.91 348.27,1165.73 349.81,1162.50 351.35,1159.21 352.89,1155.88 354.44,1152.50 355.98,1149.06 357.52,1145.58 359.06,1142.03 360.60,1138.44 362.14,1134.78 363.69,1131.07 365.23,1127.31 366.77,1123.48 368.31,1119.60 369.85,1115.65 371.39,1111.65 372.93,1107.58 374.48,1103.45 376.02,1099.26 377.56,1095.00 379.10,1090.67 380.64,1086.28 382.18,1081.82 383.72,1077.29 385.27,1072.69 386.81,1068.02 388.35,1063.28 389.89,1058.47 391.43,1053.58 392.97,1048.61 394.52,1043.57 396.06,1038.45 397.60,1033.25 399.14,1027.97 400.68,1022.61 402.22,1017.16 403.76,1011.63 405.31,1006.02 406.85,1000.32 408.39,994.53 409.93,988.65 411.47,982.68 413.01,976.62 414.55,970.46 416.10,964.21 417.64,957.86 419.18,951.41 420.72,944.87 422.26,938.22 423.80,931.47 425.35,924.62 426.89,917.66 428.43,910.59 429.97,903.41 431.51,896.12 433.05,888.72 434.59,881.21 436.14,873.58 437.68,865.83 439.22,857.96 440.76,849.96 442.30,841.85 443.84,833.61 445.38,825.24 446.93,816.74 448.47,808.11 450.01,799.35 451.55,790.45 453.09,781.42 454.63,772.24 456.18,762.93 457.72,753.46 459.26,743.86 460.80,734.10" fill="none" stroke="#000" stroke-width="4.5"/>
</g>
<line x1="316.68" y1="1374.35" x2="316.68" y2="764.60" stroke="#000" stroke-width="5.1" stroke-dasharray="4.9 5.04"/>
<rect x="152.50" y="764.60" width="820.90" height="610.00" fill="none" stroke="#000" stroke-width="4.5"/>
<circle cx="888.70" cy="1260.20" r="13.5" fill="none" stroke="#000" stroke-width="3.5"/><circle cx="888.70" cy="1260.20" r="1.9" fill="#000"/>
<rect x="875.20" y="1292.80" width="27.2" height="27.2" fill="none" stroke="#000" stroke-width="3.5"/><circle cx="888.80" cy="1306.40" r="1.9" fill="#000"/>
</g>
<text transform="translate(119.09,662.70) scale(1,1.04)" font-family="'Liberation Sans', sans-serif" stroke="#000" stroke-width="0.4" font-size="36" fill="#000">10<tspan font-size="29" dx="-1" dy="-17">-1</tspan></text>
<text transform="translate(119.09,1425.60) scale(1,1.04)" font-family="'Liberation Sans', sans-serif" stroke="#000" stroke-width="0.4" font-size="36" fill="#000">10<tspan font-size="29" dx="-1" dy="-17">-1</tspan></text>
<text transform="translate(288.10,662.70) scale(1,1.04)" font-family="'Liberation Sans', sans-serif" stroke="#000" stroke-width="0.4" font-size="36" fill="#000">10<tspan font-size="29" dx="-1" dy="-17">0</tspan></text>
<text transform="translate(288.10,1425.60) scale(1,1.04)" font-family="'Liberation Sans', sans-serif" stroke="#000" stroke-width="0.4" font-size="36" fill="#000">10<tspan font-size="29" dx="-1" dy="-17">0</tspan></text>
<text transform="translate(452.28,662.70) scale(1,1.04)" font-family="'Liberation Sans', sans-serif" stroke="#000" stroke-width="0.4" font-size="36" fill="#000">10<tspan font-size="29" dx="-1" dy="-17">1</tspan></text>
<text transform="translate(452.28,1425.60) scale(1,1.04)" font-family="'Liberation Sans', sans-serif" stroke="#000" stroke-width="0.4" font-size="36" fill="#000">10<tspan font-size="29" dx="-1" dy="-17">1</tspan></text>
<text transform="translate(616.46,662.70) scale(1,1.04)" font-family="'Liberation Sans', sans-serif" stroke="#000" stroke-width="0.4" font-size="36" fill="#000">10<tspan font-size="29" dx="-1" dy="-17">2</tspan></text>
<text transform="translate(616.46,1425.60) scale(1,1.04)" font-family="'Liberation Sans', sans-serif" stroke="#000" stroke-width="0.4" font-size="36" fill="#000">10<tspan font-size="29" dx="-1" dy="-17">2</tspan></text>
<text transform="translate(780.64,662.70) scale(1,1.04)" font-family="'Liberation Sans', sans-serif" stroke="#000" stroke-width="0.4" font-size="36" fill="#000">10<tspan font-size="29" dx="-1" dy="-17">3</tspan></text>
<text transform="translate(780.64,1425.60) scale(1,1.04)" font-family="'Liberation Sans', sans-serif" stroke="#000" stroke-width="0.4" font-size="36" fill="#000">10<tspan font-size="29" dx="-1" dy="-17">3</tspan></text>
<text transform="translate(944.82,662.70) scale(1,1.04)" font-family="'Liberation Sans', sans-serif" stroke="#000" stroke-width="0.4" font-size="36" fill="#000">10<tspan font-size="29" dx="-1" dy="-17">4</tspan></text>
<text transform="translate(944.82,1425.60) scale(1,1.04)" font-family="'Liberation Sans', sans-serif" stroke="#000" stroke-width="0.4" font-size="36" fill="#000">10<tspan font-size="29" dx="-1" dy="-17">4</tspan></text>
<text transform="translate(76.34,78.00) scale(1,1.04)" font-family="'Liberation Sans', sans-serif" stroke="#000" stroke-width="0.4" font-size="36" fill="#000">10<tspan font-size="29" dx="-1" dy="-17">0</tspan></text>
<text transform="translate(66.69,281.30) scale(1,1.04)" font-family="'Liberation Sans', sans-serif" stroke="#000" stroke-width="0.4" font-size="36" fill="#000">10<tspan font-size="29" dx="-1" dy="-17">-1</tspan></text>
<text transform="translate(66.69,484.60) scale(1,1.04)" font-family="'Liberation Sans', sans-serif" stroke="#000" stroke-width="0.4" font-size="36" fill="#000">10<tspan font-size="29" dx="-1" dy="-17">-2</tspan></text>
<text transform="translate(131.2,1386.80) scale(1,1.04)" text-anchor="end" font-family="'Liberation Sans', sans-serif" stroke="#000" stroke-width="0.4" font-size="36" fill="#000">0</text>
<text transform="translate(131.2,1310.55) scale(1,1.04)" text-anchor="end" font-family="'Liberation Sans', sans-serif" stroke="#000" stroke-width="0.4" font-size="36" fill="#000">0.5</text>
<text transform="translate(131.2,1234.30) scale(1,1.04)" text-anchor="end" font-family="'Liberation Sans', sans-serif" stroke="#000" stroke-width="0.4" font-size="36" fill="#000">1</text>
<text transform="translate(131.2,1158.05) scale(1,1.04)" text-anchor="end" font-family="'Liberation Sans', sans-serif" stroke="#000" stroke-width="0.4" font-size="36" fill="#000">1.5</text>
<text transform="translate(131.2,1081.80) scale(1,1.04)" text-anchor="end" font-family="'Liberation Sans', sans-serif" stroke="#000" stroke-width="0.4" font-size="36" fill="#000">2</text>
<text transform="translate(131.2,1005.55) scale(1,1.04)" text-anchor="end" font-family="'Liberation Sans', sans-serif" stroke="#000" stroke-width="0.4" font-size="36" fill="#000">2.5</text>
<text transform="translate(131.2,929.30) scale(1,1.04)" text-anchor="end" font-family="'Liberation Sans', sans-serif" stroke="#000" stroke-width="0.4" font-size="36" fill="#000">3</text>
<text transform="translate(131.2,853.05) scale(1,1.04)" text-anchor="end" font-family="'Liberation Sans', sans-serif" stroke="#000" stroke-width="0.4" font-size="36" fill="#000">3.5</text>
<text transform="translate(131.2,776.80) scale(1,1.04)" text-anchor="end" font-family="'Liberation Sans', sans-serif" stroke="#000" stroke-width="0.4" font-size="36" fill="#000">4</text>
<text transform="matrix(1.0513 0 -0.0000 1.1381 840.69 82.98)" font-family="'Liberation Serif', serif" font-size="50" fill="#231f20" stroke="#fff" stroke-width="0.366">(</text>
<text transform="matrix(1.2404 0 -0.0000 1.0063 858.37 82.36)" font-family="'Liberation Serif', serif" font-size="50" fill="#231f20" stroke="#fff" stroke-width="0.448">a</text>
<text transform="matrix(1.0746 0 -0.0000 1.1381 885.67 82.98)" font-family="'Liberation Serif', serif" font-size="50" fill="#231f20" stroke="#fff" stroke-width="0.362">)</text>
<text transform="matrix(1.0513 0 -0.0000 1.1381 840.69 852.18)" font-family="'Liberation Serif', serif" font-size="50" fill="#231f20" stroke="#fff" stroke-width="0.366">(</text>
<text transform="matrix(1.1647 0 -0.0000 1.0631 860.55 852.23)" font-family="'Liberation Serif', serif" font-size="50" fill="#231f20" stroke="#fff" stroke-width="0.449">b</text>
<text transform="matrix(1.0513 0 -0.0000 1.1381 889.31 852.18)" font-family="'Liberation Serif', serif" font-size="50" fill="#231f20" stroke="#fff" stroke-width="0.366">)</text>
<text transform="matrix(1.0169 0 -0.0000 1.0331 340.58 557.55)" font-family="'Liberation Serif', serif" font-size="50" fill="#000" stroke="#000" stroke-width="0.488">1</text>
<text transform="matrix(1.0169 0 -0.0000 1.0331 340.58 1321.05)" font-family="'Liberation Serif', serif" font-size="50" fill="#000" stroke="#000" stroke-width="0.488">1</text>
<text transform="matrix(0.8494 0 -0.0000 0.7467 785.87 155.14)" font-family="'Liberation Serif', serif" font-size="50" fill="#000">τ</text>
<text transform="matrix(0.7812 0 -0.0000 0.6273 801.31 166.09)" font-family="'Liberation Serif', serif" font-size="50" fill="#000">α</text>
<text transform="matrix(0.8438 0 -0.0000 0.7572 798.14 204.34)" font-family="'Liberation Serif', serif" font-size="50" fill="#000">η</text>
<text transform="matrix(0.8494 0 -0.0000 0.7467 785.87 1268.14)" font-family="'Liberation Serif', serif" font-size="50" fill="#000">τ</text>
<text transform="matrix(0.7812 0 -0.0000 0.6273 801.31 1279.09)" font-family="'Liberation Serif', serif" font-size="50" fill="#000">α</text>
<text transform="matrix(0.8438 0 -0.0000 0.7572 798.14 1317.34)" font-family="'Liberation Serif', serif" font-size="50" fill="#000">η</text>
<text transform="matrix(1.6011 0 -0.0000 1.2784 174.81 146.55)" font-family="'DejaVu Serif', serif" font-size="50" fill="#000" stroke="#fff" stroke-width="0.769">∝</text>
<text transform="matrix(1.0433 0 -0.1291 0.9220 233.05 140.91)" font-family="'DejaVu Sans', sans-serif" font-size="50" fill="#000" stroke="#fff" stroke-width="1.224">γ</text>
<text transform="matrix(1.1892 0 -0.0000 1.1892 242.28 143.42)" font-family="'Liberation Serif', serif" font-size="50" fill="#000">˙</text>
<text transform="matrix(0.8400 0 -0.0000 0.7113 266.95 117.60)" font-family="'Liberation Serif', serif" font-size="50" fill="#000" stroke="#fff" stroke-width="0.388">0</text>
<text transform="matrix(1.6011 0 -0.0000 1.2784 520.81 401.45)" font-family="'DejaVu Serif', serif" font-size="50" fill="#0000ff" stroke="#fff" stroke-width="0.769">∝</text>
<text transform="matrix(1.0433 0 -0.1291 0.9220 578.85 395.71)" font-family="'DejaVu Sans', sans-serif" font-size="50" fill="#0000ff" stroke="#fff" stroke-width="1.224">γ</text>
<text transform="matrix(1.1892 0 -0.0000 1.1892 588.08 398.22)" font-family="'Liberation Serif', serif" font-size="50" fill="#0000ff">˙</text>
<text transform="matrix(1.0315 0 -0.0000 0.9638 614.73 379.30)" font-family="'Liberation Serif', serif" font-size="50" fill="#0000ff">−</text>
<text transform="matrix(0.8950 0 -0.0000 0.6805 647.56 372.29)" font-family="'Liberation Serif', serif" font-style="italic" font-size="50" fill="#0000ff" stroke="#fff" stroke-width="0.320">ν</text>
<text transform="matrix(1.6011 0 -0.0000 1.2784 486.81 1130.95)" font-family="'DejaVu Serif', serif" font-size="50" fill="#0000ff" stroke="#fff" stroke-width="0.769">∝</text>
<text transform="matrix(1.0433 0 -0.1291 0.9220 544.85 1125.31)" font-family="'DejaVu Sans', sans-serif" font-size="50" fill="#0000ff" stroke="#fff" stroke-width="1.224">γ</text>
<text transform="matrix(1.1892 0 -0.0000 1.1892 554.08 1127.82)" font-family="'Liberation Serif', serif" font-size="50" fill="#0000ff">˙</text>
<text transform="matrix(0.8400 0 -0.0000 0.7113 578.75 1102.00)" font-family="'Liberation Serif', serif" font-size="50" fill="#0000ff" stroke="#fff" stroke-width="0.388">0</text>
<text transform="matrix(1.6011 0 -0.0000 1.2784 192.81 1216.15)" font-family="'DejaVu Serif', serif" font-size="50" fill="#000" stroke="#fff" stroke-width="0.769">∝</text>
<text transform="matrix(1.0433 0 -0.1291 0.9220 250.55 1210.61)" font-family="'DejaVu Sans', sans-serif" font-size="50" fill="#000" stroke="#fff" stroke-width="1.224">γ</text>
<text transform="matrix(1.1892 0 -0.0000 1.1892 259.78 1213.12)" font-family="'Liberation Serif', serif" font-size="50" fill="#000">˙</text>
<text transform="matrix(0.9182 0 -0.0000 0.6933 285.75 1186.39)" font-family="'Liberation Serif', serif" font-style="italic" font-size="50" fill="#000" stroke="#fff" stroke-width="0.313">ν</text>
<text transform="matrix(1.0433 0 -0.1291 0.9220 670.95 712.21)" font-family="'DejaVu Sans', sans-serif" font-size="50" fill="#231f20" stroke="#fff" stroke-width="1.224">γ</text>
<text transform="matrix(1.1892 0 -0.0000 1.1892 680.18 714.72)" font-family="'Liberation Serif', serif" font-size="50" fill="#231f20">˙</text>
<text transform="matrix(1.5405 0 -0.0000 1.5487 707.60 722.64)" font-family="'Liberation Serif', serif" font-size="50" fill="#231f20" stroke="#fff" stroke-width="0.518">/</text>
<text transform="matrix(1.0433 0 -0.1291 0.9220 727.35 712.21)" font-family="'DejaVu Sans', sans-serif" font-size="50" fill="#231f20" stroke="#fff" stroke-width="1.224">γ</text>
<text transform="matrix(1.1892 0 -0.0000 1.1892 736.58 714.72)" font-family="'Liberation Serif', serif" font-size="50" fill="#231f20">˙</text>
<text transform="matrix(0.7705 0 -0.0000 0.6612 759.76 716.33)" font-family="'Liberation Serif', serif" font-style="italic" font-size="50" fill="#231f20" stroke="#231f20" stroke-width="0.420">c</text>
<text transform="matrix(1.0433 0 -0.1291 0.9220 670.95 1476.41)" font-family="'DejaVu Sans', sans-serif" font-size="50" fill="#231f20" stroke="#fff" stroke-width="1.224">γ</text>
<text transform="matrix(1.1892 0 -0.0000 1.1892 680.18 1478.92)" font-family="'Liberation Serif', serif" font-size="50" fill="#231f20">˙</text>
<text transform="matrix(1.5405 0 -0.0000 1.5487 707.60 1486.84)" font-family="'Liberation Serif', serif" font-size="50" fill="#231f20" stroke="#fff" stroke-width="0.518">/</text>
<text transform="matrix(1.0433 0 -0.1291 0.9220 727.35 1476.41)" font-family="'DejaVu Sans', sans-serif" font-size="50" fill="#231f20" stroke="#fff" stroke-width="1.224">γ</text>
<text transform="matrix(1.1892 0 -0.0000 1.1892 736.58 1478.92)" font-family="'Liberation Serif', serif" font-size="50" fill="#231f20">˙</text>
<text transform="matrix(0.7705 0 -0.0000 0.6612 759.76 1480.53)" font-family="'Liberation Serif', serif" font-style="italic" font-size="50" fill="#231f20" stroke="#231f20" stroke-width="0.420">c</text>
<text transform="rotate(-90) matrix(1.0440 0 -0.0000 0.9333 -430.07 39.92)" font-family="'DejaVu Serif', serif" font-style="italic" font-size="50" fill="#231f20" stroke="#fff" stroke-width="0.608">τ</text>
<text transform="rotate(-90) matrix(0.8579 0 -0.0000 0.6287 -402.80 45.40)" font-family="'Liberation Serif', serif" font-style="italic" font-size="50" fill="#231f20" stroke="#fff" stroke-width="0.340">α</text>
<text transform="rotate(-90) matrix(1.3821 0 -0.0000 1.5532 -370.40 51.39)" font-family="'Liberation Serif', serif" font-size="50" fill="#231f20" stroke="#fff" stroke-width="0.546">/</text>
<text transform="rotate(-90) matrix(1.0200 0 -0.0000 0.9333 -350.79 39.92)" font-family="'DejaVu Serif', serif" font-style="italic" font-size="50" fill="#231f20" stroke="#fff" stroke-width="0.615">τ</text>
<text transform="rotate(-90) matrix(0.8892 0 -0.0000 0.6287 -324.25 45.40)" font-family="'Liberation Serif', serif" font-style="italic" font-size="50" fill="#231f20" stroke="#fff" stroke-width="0.334">α</text>
<text transform="rotate(-90) matrix(0.8352 0 -0.0000 0.7143 -297.84 45.20)" font-family="'Liberation Serif', serif" font-size="50" fill="#231f20" stroke="#fff" stroke-width="0.388">0</text>
<text transform="rotate(-90) matrix(1.0206 0 -0.0000 1.2771 -271.94 39.38)" font-family="'Liberation Serif', serif" font-size="50" fill="#231f20" stroke="#fff" stroke-width="0.701">,</text>
<text transform="rotate(-90) matrix(1.1982 0 -0.0000 1.0079 -216.89 39.40)" font-family="'Liberation Serif', serif" font-style="italic" font-size="50" fill="#231f20" stroke="#fff" stroke-width="0.637">η</text>
<text transform="rotate(-90) matrix(1.4829 0 -0.0000 1.5532 -184.70 51.39)" font-family="'Liberation Serif', serif" font-size="50" fill="#231f20" stroke="#fff" stroke-width="0.527">/</text>
<text transform="rotate(-90) matrix(1.1887 0 -0.0000 1.0079 -162.47 39.40)" font-family="'Liberation Serif', serif" font-style="italic" font-size="50" fill="#231f20" stroke="#fff" stroke-width="0.640">η</text>
<text transform="rotate(-90) matrix(0.8211 0 -0.0000 0.7143 -135.61 45.20)" font-family="'Liberation Serif', serif" font-size="50" fill="#231f20" stroke="#fff" stroke-width="0.392">0</text>
<text transform="rotate(-90) matrix(0.6647 0 -0.0000 1.2276 -1368.77 43.19)" font-family="'Liberation Serif', serif" font-size="50" fill="#231f20">[</text>
<text transform="rotate(-90) matrix(1.0200 0 -0.0000 0.9333 -1359.99 39.92)" font-family="'DejaVu Serif', serif" font-style="italic" font-size="50" fill="#231f20" stroke="#fff" stroke-width="0.615">τ</text>
<text transform="rotate(-90) matrix(0.8384 0 -0.0000 0.6287 -1333.17 45.40)" font-family="'Liberation Serif', serif" font-style="italic" font-size="50" fill="#231f20" stroke="#fff" stroke-width="0.344">α</text>
<text transform="rotate(-90) matrix(1.4541 0 -0.0000 1.5427 -1300.80 51.05)" font-family="'Liberation Serif', serif" font-size="50" fill="#231f20" stroke="#fff" stroke-width="0.534">/</text>
<text transform="rotate(-90) matrix(1.0160 0 -0.0000 0.9333 -1280.47 39.92)" font-family="'DejaVu Serif', serif" font-style="italic" font-size="50" fill="#231f20" stroke="#fff" stroke-width="0.616">τ</text>
<text transform="rotate(-90) matrix(0.8735 0 -0.0000 0.6287 -1253.83 45.40)" font-family="'Liberation Serif', serif" font-style="italic" font-size="50" fill="#231f20" stroke="#fff" stroke-width="0.337">α</text>
<text transform="rotate(-90) matrix(0.8211 0 -0.0000 0.7143 -1228.51 45.20)" font-family="'Liberation Serif', serif" font-size="50" fill="#231f20" stroke="#fff" stroke-width="0.392">0</text>
<text transform="rotate(-90) matrix(0.6467 0 -0.0000 1.2276 -1204.77 43.19)" font-family="'Liberation Serif', serif" font-size="50" fill="#231f20">]</text>
<text transform="rotate(-90) matrix(1.5405 0 -0.0000 1.5427 -1178.80 51.05)" font-family="'Liberation Serif', serif" font-size="50" fill="#231f20" stroke="#fff" stroke-width="0.519">/</text>
<text transform="rotate(-90) matrix(1.0502 0 -0.1317 0.9405 -1159.41 40.52)" font-family="'DejaVu Sans', sans-serif" font-size="50" fill="#231f20" stroke="#fff" stroke-width="1.207">γ</text>
<text transform="rotate(-90) matrix(1.2175 0 -0.0000 1.2175 -1151.11 43.68)" font-family="'Liberation Serif', serif" font-size="50" fill="#231f20" stroke="#fff" stroke-width="0.205">˙</text>
<text transform="rotate(-90) matrix(1.0294 0 -0.0000 1.0240 -1123.59 25.05)" font-family="'Liberation Serif', serif" font-size="50" fill="#231f20" stroke="#fff" stroke-width="0.244">−</text>
<text transform="rotate(-90) matrix(0.8903 0 -0.0000 0.6933 -1090.53 16.89)" font-family="'Liberation Serif', serif" font-style="italic" font-size="50" fill="#231f20" stroke="#fff" stroke-width="0.318">ν</text>
<text transform="rotate(-90) matrix(1.0206 0 -0.0000 1.2615 -1064.04 38.90)" font-family="'Liberation Serif', serif" font-size="50" fill="#231f20" stroke="#fff" stroke-width="0.705">,</text>
<text transform="rotate(-90) matrix(0.6557 0 -0.0000 1.2276 -1004.03 43.19)" font-family="'Liberation Serif', serif" font-size="50" fill="#231f20">[</text>
<text transform="rotate(-90) matrix(1.2364 0 -0.0000 1.0079 -993.85 39.40)" font-family="'Liberation Serif', serif" font-style="italic" font-size="50" fill="#231f20" stroke="#fff" stroke-width="0.627">η</text>
<text transform="rotate(-90) matrix(1.4397 0 -0.0000 1.5427 -960.60 51.05)" font-family="'Liberation Serif', serif" font-size="50" fill="#231f20" stroke="#fff" stroke-width="0.537">/</text>
<text transform="rotate(-90) matrix(1.2173 0 -0.0000 1.0079 -939.12 39.40)" font-family="'Liberation Serif', serif" font-style="italic" font-size="50" fill="#231f20" stroke="#fff" stroke-width="0.632">η</text>
<text transform="rotate(-90) matrix(0.8211 0 -0.0000 0.7143 -913.41 45.20)" font-family="'Liberation Serif', serif" font-size="50" fill="#231f20" stroke="#fff" stroke-width="0.392">0</text>
<text transform="rotate(-90) matrix(0.6467 0 -0.0000 1.2276 -889.57 43.19)" font-family="'Liberation Serif', serif" font-size="50" fill="#231f20">]</text>
<text transform="rotate(-90) matrix(1.5333 0 -0.0000 1.5427 -863.50 51.05)" font-family="'Liberation Serif', serif" font-size="50" fill="#231f20" stroke="#fff" stroke-width="0.520">/</text>
<text transform="rotate(-90) matrix(1.0502 0 -0.1317 0.9405 -844.21 40.52)" font-family="'DejaVu Sans', sans-serif" font-size="50" fill="#231f20" stroke="#fff" stroke-width="1.207">γ</text>
<text transform="rotate(-90) matrix(1.2175 0 -0.0000 1.2175 -835.91 43.68)" font-family="'Liberation Serif', serif" font-size="50" fill="#231f20" stroke="#fff" stroke-width="0.205">˙</text>
<text transform="rotate(-90) matrix(1.0294 0 -0.0000 1.0240 -808.39 25.05)" font-family="'Liberation Serif', serif" font-size="50" fill="#231f20" stroke="#fff" stroke-width="0.244">−</text>
<text transform="rotate(-90) matrix(0.8903 0 -0.0000 0.6933 -775.33 16.89)" font-family="'Liberation Serif', serif" font-style="italic" font-size="50" fill="#231f20" stroke="#fff" stroke-width="0.318">ν</text>
</svg>
</body></html>
